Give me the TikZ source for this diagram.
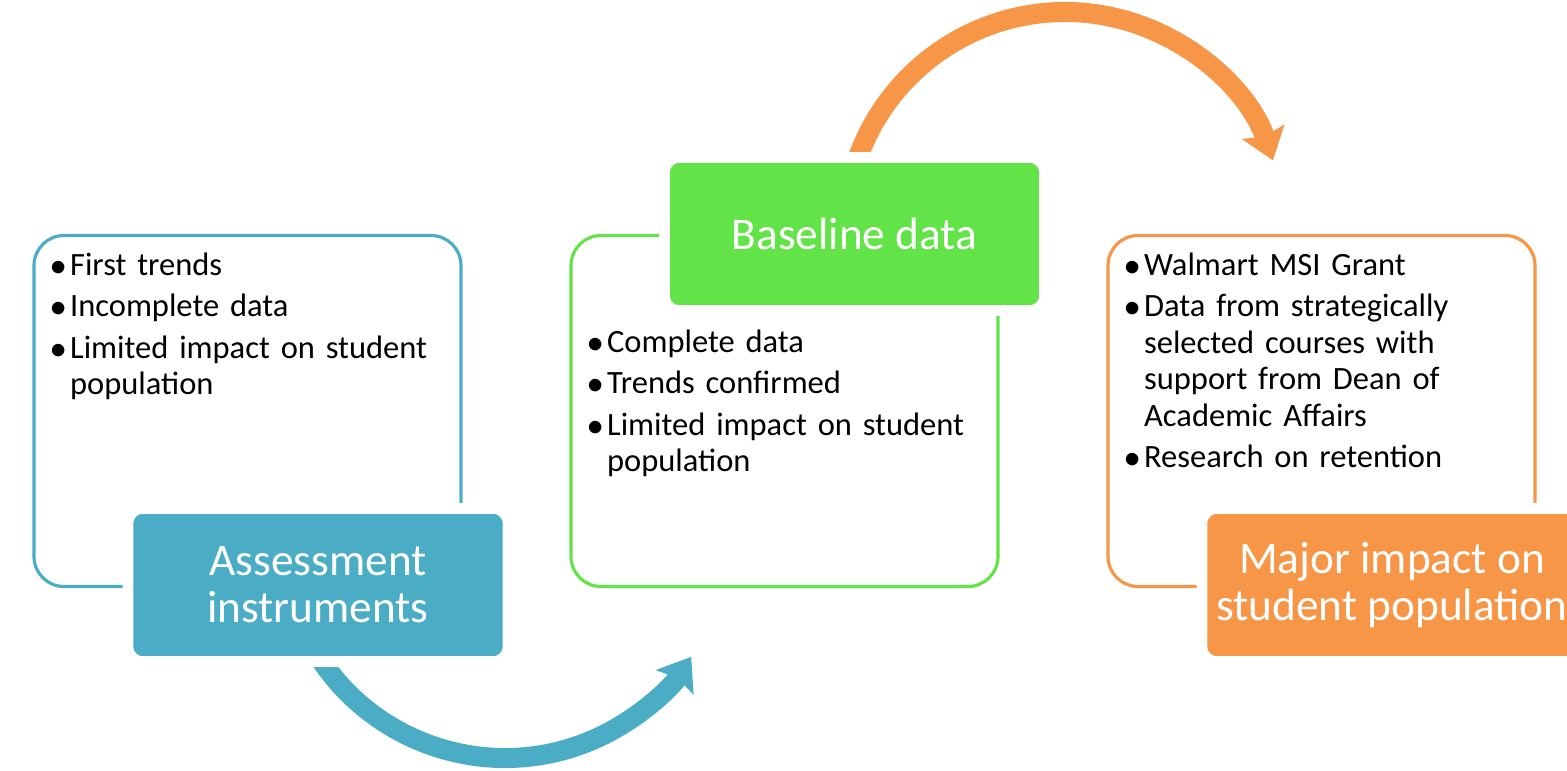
\documentclass[tikz,border=0pt]{standalone}
\usepackage{fontspec}
\setmainfont{Carlito}
\usetikzlibrary{arrows.meta,positioning,calc}
\definecolor{assessblue}{RGB}{75,172,198}
\definecolor{baselinegreen}{RGB}{98,227,72}
\definecolor{impactorange}{RGB}{247,150,70}
\newcommand{\bul}{\noindent\makebox[0.2cm][l]{$\bullet$}}
\newcommand{\hang}{\hspace*{0.2cm}}
\tikzset{
	outlinebox/.style={draw=#1, line width=0.9pt, rounded corners=0.3cm, fill=white, minimum width=4.27cm, minimum height=3.51cm, inner sep=0pt},
	titlebox/.style={fill=#1, draw=white, line width=3pt, rounded corners=0.15cm, minimum width=3.8cm, minimum height=1.53cm, inner sep=0pt, text=white, align=center, font=\fontsize{12.9}{13.4}\selectfont},
	bullets/.style={anchor=north west, inner sep=0pt, text width=4cm, align=left, font=\fontsize{9.25}{10.4}\selectfont\setlength{\parskip}{1.4pt}},
	flowarc/.style={draw=#1, line width=0.2cm, -{Stealth[width=0.44cm, length=0.3cm, inset=0.05cm]}}
}
\begin{document}
\begin{tikzpicture}
		\useasboundingbox (0,0) rectangle (15.67,7.70);
		\foreach \name/\x/\col in {firstbox/2.475/assessblue, baselinebox/7.845/baselinegreen, impactbox/13.215/impactorange}
			\node[outlinebox=\col] (\name) at (\x,3.59) {};
		
		\node[bullets, below right=0.18cm and 0.17cm of firstbox.north west] (firstlist) {\bul First trends\par\bul Incomplete data\par\bul Limited impact on student\\\hang population};
		\node[bullets, below right=0.95cm and 0.17cm of baselinebox.north west] (baselinelist) {\bul Complete data\par\bul Trends confirmed\par\bul Limited impact on student\\\hang population};
		\node[bullets, below right=0.18cm and 0.17cm of impactbox.north west] (impactlist) {\bul Walmart MSI Grant\par\bul Data from strategically\\\hang selected courses with\\\hang support from Dean of\\\hang Academic Affairs\par\bul Research on retention};
		
		\coordinate (bluestart) at ([shift={(208:2.22)}]5.05,2.34);
		\coordinate (orangestart) at ([shift={(165:2.2)}]10.65,5.38);
		\draw[flowarc=assessblue] (bluestart) arc[start angle=208, end angle=327, radius=2.22];
		\draw[flowarc=impactorange] (orangestart) arc[start angle=165, end angle=19, radius=2.2];
		
		\node[titlebox=assessblue] (assess) at (3.18,1.85) {Assessment\\instruments};
		\node[titlebox=baselinegreen] (baseline) at (8.545,5.36) {Baseline data};
		\node[titlebox=impactorange] (impact) at (13.92,1.85) {Major impact on\\student population};
	\end{tikzpicture}
\end{document}
